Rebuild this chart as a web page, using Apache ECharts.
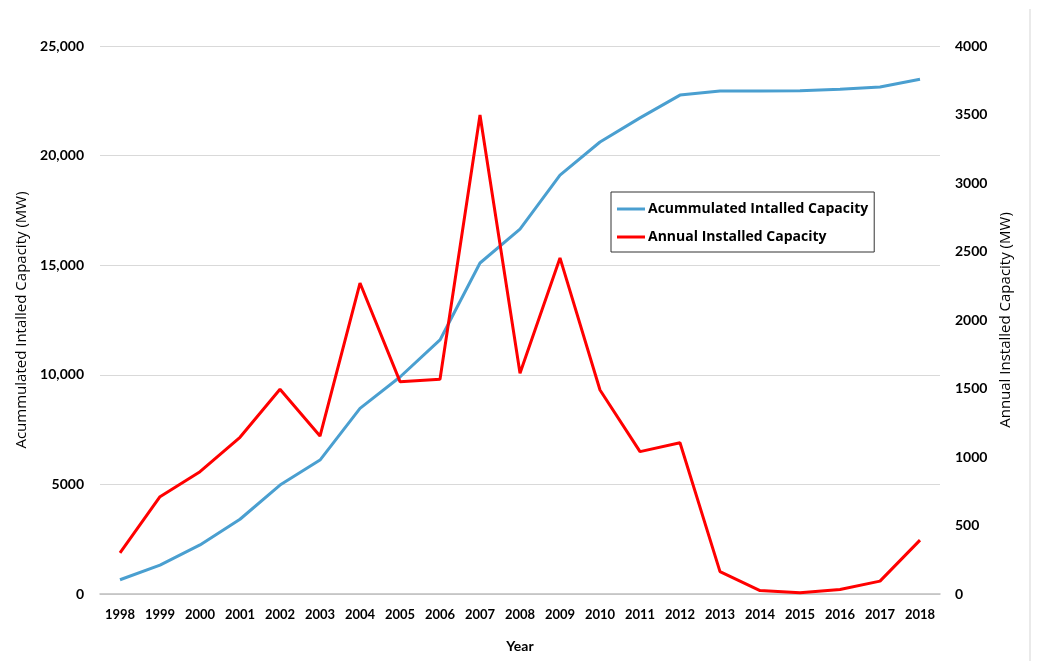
<!DOCTYPE html>
<html>
<head>
<meta charset="utf-8">
<script src="https://cdn.jsdelivr.net/npm/echarts@6/dist/echarts.min.js"></script>
<style>
  html, body { margin: 0; padding: 0; background: #fff; }
  #chart { width: 1040px; height: 661px; }
</style>
</head>
<body>
<div id="chart"></div>
<script>
// Installed wind capacity by year
const years = ['1998','1999','2000','2001','2002','2003','2004','2005','2006','2007','2008',
               '2009','2010','2011','2012','2013','2014','2015','2016','2017','2018'];
// Accumulated installed capacity (MW), left axis
const accumulated = [650, 1320, 2240, 3410, 4970, 6110, 8470, 9900, 11590, 15100, 16650,
                     19110, 20620, 21720, 22760, 22950, 22950, 22960, 23030, 23130, 23480];
// Annual installed capacity (MW), right axis
const annual = [301, 710, 893, 1144, 1494, 1153, 2270, 1550, 1567, 3496, 1611,
                2453, 1489, 1039, 1104, 163, 25, 9, 33, 94, 393];

const FONT = 'Lato, "Open Sans", sans-serif';
const WIDE = '"Open Sans", Lato, sans-serif';

const chart = echarts.init(document.getElementById('chart'), null, { renderer: 'canvas' });
chart.setOption({
  backgroundColor: '#ffffff',
  animation: false,
  textStyle: { fontFamily: FONT, color: '#000' },
  grid: { left: 100, right: 100, top: 46, bottom: 67, containLabel: false },
  graphic: [{
    type: 'line',
    shape: { x1: 1030, y1: 9, x2: 1030, y2: 661 },
    style: { stroke: '#e3e3e3', lineWidth: 1.5 },
    silent: true
  }],
  legend: {
    orient: 'vertical',
    left: 611,
    top: 192,
    padding: [10, 6, 8, 6],
    itemGap: 14,
    itemWidth: 28,
    itemHeight: 3,
    icon: 'rect',
    borderColor: '#333',
    borderWidth: 1,
    textStyle: { fontFamily: WIDE, fontWeight: 'bold', fontSize: 14, color: '#000', padding: [0, 0, 0, -2] },
    data: ['Acummulated Intalled Capacity', 'Annual Installed Capacity']
  },
  xAxis: {
    type: 'category',
    data: years,
    boundaryGap: true,
    name: 'Year',
    nameLocation: 'middle',
    nameGap: 45,
    nameTextStyle: { fontFamily: FONT, fontWeight: 'bold', fontSize: 14, color: '#000' },
    axisLine: { show: true, lineStyle: { color: '#bfbfbf', width: 1.5 } },
    axisTick: { show: false },
    axisLabel: { fontFamily: FONT, fontWeight: 'bold', fontSize: 13, color: '#000', margin: 14, interval: 0 }
  },
  yAxis: [{
    type: 'value',
    min: 0,
    max: 25000,
    interval: 5000,
    name: 'Acummulated Intalled Capacity (MW)',
    nameLocation: 'middle',
    nameGap: 64,
    nameTextStyle: { fontFamily: WIDE, fontSize: 15, color: '#000' },
    axisLine: { show: false },
    axisTick: { show: false },
    splitLine: { show: true, lineStyle: { color: '#d9d9d9', width: 1 } },
    axisLabel: {
      fontFamily: FONT, fontWeight: 'bold', fontSize: 14, color: '#000', margin: 16,
      formatter: function (v) { return v >= 10000 ? v.toLocaleString('en-US') : String(v); }
    }
  }, {
    type: 'value',
    min: 0,
    max: 4000,
    interval: 500,
    name: 'Annual Installed Capacity (MW)',
    nameLocation: 'middle',
    nameGap: 57,
    nameTextStyle: { fontFamily: WIDE, fontSize: 15, color: '#000' },
    axisLine: { show: false },
    axisTick: { show: false },
    splitLine: { show: false },
    axisLabel: {
      fontFamily: FONT, fontWeight: 'bold', fontSize: 14, color: '#000', margin: 15,
      formatter: function (v) { return String(v); }
    }
  }],
  series: [{
    name: 'Acummulated Intalled Capacity',
    type: 'line',
    yAxisIndex: 0,
    data: accumulated,
    showSymbol: false,
    symbol: 'none',
    color: '#4a9fd0',
    lineStyle: { color: '#4a9fd0', width: 3 }
  }, {
    name: 'Annual Installed Capacity',
    type: 'line',
    yAxisIndex: 1,
    data: annual,
    showSymbol: false,
    symbol: 'none',
    color: '#ff0000',
    lineStyle: { color: '#ff0000', width: 3 }
  }]
});
</script>
</body>
</html>
